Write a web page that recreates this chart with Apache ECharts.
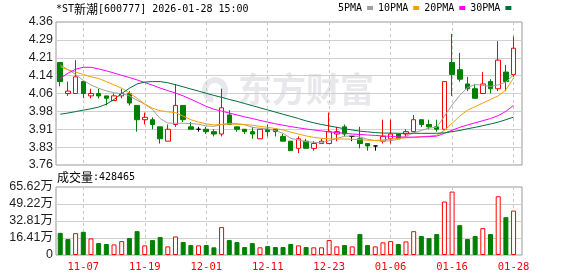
<!DOCTYPE html>
<html><head><meta charset="utf-8">
<script src="https://cdn.jsdelivr.net/npm/echarts@6/dist/echarts.min.js"></script>
<style>html,body{margin:0;padding:0;background:#fff}#c{width:578px;height:276px}</style>
</head><body><div id="c"></div>
<script>
// ---------- data ----------
const stockName = '*ST新潮';
const stockCode = '600777';
const stamp = '2026-01-28 15:00';

const dates = ['11-04','11-05','11-06','11-07','11-10','11-11','11-12','11-13','11-14','11-17','11-18','11-19','11-20','11-21','11-24','11-25','11-26','11-27','11-28',
 '12-01','12-02','12-03','12-04','12-05','12-08','12-09','12-10','12-11','12-12','12-15','12-16','12-17','12-18','12-19','12-22','12-23','12-24','12-25','12-26','12-29','12-30','12-31',
 '01-05','01-06','01-07','01-08','01-09','01-12','01-13','01-14','01-15','01-16','01-19','01-20','01-21','01-22','01-23','01-26','01-27','01-28'];

const opens  = [4.19,4.06,4.06,4.11,4.05,4.06,4.05,4.03,4.05,4.06, 4.01,3.95,3.95,3.92,3.86,3.93,4.01,3.92,3.91,3.91, 3.90,3.89,3.97,3.92,3.91,3.90,3.87,3.91,3.91,3.88, 3.86,3.83,3.86,3.83,3.85,3.85,3.89,3.92,3.88,3.87, 3.85,3.84,3.86,3.87,3.89,3.89,3.90,3.95,3.93,3.92, 3.91,4.19,4.16,4.10,4.08,4.06,4.11,4.08,4.15,4.14];
const closes = [4.11,4.07,4.13,4.06,4.06,4.05,4.04,4.05,4.06,4.02, 3.95,3.96,3.93,3.87,3.91,4.01,3.95,3.91,3.91,3.90, 3.89,4.00,3.93,3.91,3.90,3.89,3.91,3.90,3.90,3.86, 3.82,3.87,3.83,3.85,3.86,3.90,3.90,3.89,3.88,3.85, 3.84,3.84,3.88,3.89,3.87,3.90,3.95,3.93,3.92,3.91, 4.11,4.14,4.12,4.08,4.04,4.10,4.08,4.20,4.11,4.25];
const lows   = [4.09,4.05,4.06,4.04,4.04,4.04,4.01,4.03,4.04,4.01, 3.90,3.93,3.91,3.85,3.86,3.92,3.94,3.91,3.90,3.89, 3.88,3.88,3.93,3.90,3.89,3.87,3.87,3.88,3.88,3.86, 3.82,3.81,3.83,3.82,3.85,3.85,3.86,3.88,3.86,3.83, 3.82,3.82,3.85,3.85,3.87,3.88,3.90,3.92,3.91,3.90, 3.91,4.05,4.11,4.07,4.04,4.06,4.06,4.07,4.07,4.13];
const highs  = [4.19,4.11,4.20,4.11,4.08,4.08,4.05,4.06,4.08,4.07, 4.01,3.98,3.96,3.92,3.93,4.10,4.01,3.94,3.92,3.92, 3.91,4.08,3.99,3.92,3.91,3.92,3.91,3.93,3.91,3.89, 3.86,3.88,3.87,3.86,3.87,3.98,3.92,3.93,3.88,3.92, 3.85,3.84,3.95,3.95,3.89,3.91,3.97,3.95,3.95,3.95, 4.11,4.31,4.23,4.13,4.10,4.15,4.12,4.28,4.18,4.30];

const ma5  = [4.180,4.160,4.140,4.115,4.096,4.082,4.071,4.063,4.060,4.050, 4.032,4.015,3.993,3.955,3.936,3.935,3.935,3.934,3.931,3.924, 3.922,3.930,3.935,3.933,3.929,3.918,3.914,3.911,3.904,3.893, 3.872,3.865,3.858,3.855,3.853,3.862,3.872,3.880,3.883,3.878, 3.868,3.862,3.860,3.862,3.868,3.880,3.895,3.905,3.915,3.918, 3.965,4.012,4.052,4.085,4.098,4.094,4.090,4.096,4.108,4.138];
const ma10 = [4.172,4.160,4.150,4.140,4.130,4.123,4.110,4.096,4.082,4.062, 4.040,4.016,3.998,3.988,3.983,3.980,3.965,3.950,3.940,3.933, 3.928,3.930,3.932,3.931,3.930,3.927,3.922,3.918,3.913,3.907, 3.898,3.890,3.882,3.876,3.872,3.870,3.869,3.869,3.868,3.866, 3.864,3.863,3.865,3.869,3.872,3.874,3.876,3.879,3.881,3.885, 3.905,3.935,3.965,3.990,4.005,4.020,4.035,4.050,4.075,4.125];
const ma20 = [4.123,4.145,4.162,4.170,4.170,4.163,4.155,4.146,4.136,4.127, 4.117,4.106,4.095,4.083,4.072,4.062,4.050,4.036,4.021,4.006, 3.994,3.986,3.978,3.970,3.962,3.955,3.947,3.940,3.933,3.927, 3.921,3.916,3.911,3.907,3.903,3.899,3.896,3.893,3.890,3.888, 3.886,3.884,3.882,3.880,3.878,3.877,3.877,3.878,3.879,3.881, 3.893,3.906,3.918,3.928,3.937,3.946,3.955,3.967,3.985,4.010];
const ma30 = [3.973,3.978,3.984,3.990,3.996,4.003,4.015,4.035,4.060,4.082, 4.100,4.108,4.110,4.110,4.105,4.097,4.088,4.079,4.070,4.061, 4.052,4.044,4.035,4.027,4.018,4.009,4.000,3.991,3.982,3.973, 3.964,3.955,3.945,3.937,3.930,3.924,3.918,3.912,3.907,3.902, 3.899,3.896,3.894,3.894,3.893,3.893,3.893,3.893,3.893,3.893, 3.895,3.900,3.905,3.912,3.918,3.925,3.932,3.940,3.950,3.961];

const volumes = [214000,154000,211000,224000,160000,115000,106000,102000,134000,163000, 230000,93000,144000,173000,83000,179000,125000,96000,93000,96000, 74000,269000,144000,125000,77000,115000,74000,86000,77000,77000, 106000,93000,77000,74000,74000,144000,83000,96000,83000,202000, 96000,83000,122000,134000,106000,131000,230000,183000,163000,202000, 516000,612000,288000,154000,183000,259000,202000,567000,365000,428465];
const volumeUp = [0,0,1,0,1,0,0,1,1,0, 0,1,0,0,1,1,0,0,1,0, 0,1,0,0,0,0,1,0,0,0, 0,1,0,1,1,1,1,0,1,0, 0,1,1,1,0,1,1,0,0,0, 1,1,0,0,0,1,0,1,0,1];

const maNames = ['5PMA','10PMA','20PMA','30PMA'];
const priceTicks = ['3.76','3.83','3.91','3.98','4.06','4.14','4.21','4.29','4.36'];
const volumeTicks = ['0','16.41万','32.81万','49.22万','65.62万'];

// ---------- chart ----------
const PRICE_MIN = 3.76, PRICE_MAX = 4.36, PRICE_STEP = 0.075;
const VOL_MAX = 656200, VOL_STEP = 164050;
const RED = '#ff0000', GREEN = '#008000';
const MA_COLORS = ['#a0a0a0', '#f5a100', '#ff00ff', '#00703a'];
const MONO = "'DejaVu Sans Mono', monospace";
const CJK = "'Noto Sans CJK SC', sans-serif";
const SANS = "'Liberation Sans', 'Noto Sans CJK SC', sans-serif";

const showIdx = (i) => (i - 3) % 8 === 0;
const candleData = dates.map((d, i) => [opens[i], closes[i], lows[i], highs[i]]);
const mas = [ma5, ma10, ma20, ma30];
const volData = volumes.map((v, i) => ({
  value: v,
  itemStyle: volumeUp[i] ? { color: '#fff', borderColor: RED, borderWidth: 1 } : { color: GREEN, borderColor: GREEN, borderWidth: 1 }
}));

const G_TOP = 22, G_H = 143, V_TOP = 187, V_H = 68;
const dashSplit = { show: true, interval: showIdx, alignWithLabel: true, lineStyle: { color: '#c8c8c8', type: [3, 3], width: 1 } };

const option = {
  animation: false,
  backgroundColor: '#fff',
  grid: [
    { left: 56.4, top: G_TOP, width: 461, height: G_H },
    { left: 56.4, top: V_TOP, width: 461, height: V_H },
    { left: 56, top: G_TOP, width: 466, height: G_H, show: true, borderColor: '#999', borderWidth: 1, backgroundColor: 'transparent' },
    { left: 56, top: V_TOP, width: 466, height: V_H, show: true, borderColor: '#999', borderWidth: 1, backgroundColor: 'transparent' }
  ],
  legend: {
    data: maNames, left: 338, top: 3, align: 'right', icon: 'rect',
    itemWidth: 6, itemHeight: 4, itemGap: 5, padding: 0, selectedMode: false,
    textStyle: { fontFamily: MONO, fontSize: 10, color: '#000', padding: [0, 0, 0, 0] }
  },
  xAxis: [
    { type: 'category', gridIndex: 0, data: dates, boundaryGap: true,
      axisLine: { show: false }, axisTick: { show: false }, axisLabel: { show: false }, splitLine: dashSplit },
    { type: 'category', gridIndex: 1, data: dates, boundaryGap: true,
      axisLine: { show: false }, axisTick: { show: false },
      axisLabel: { show: true, interval: showIdx, color: RED, fontFamily: MONO, fontSize: 10.5, margin: 7 },
      splitLine: dashSplit },
    { type: 'value', gridIndex: 2, show: false, min: 0, max: 1 },
    { type: 'value', gridIndex: 3, show: false, min: 0, max: 1 }
  ],
  yAxis: [
    { type: 'value', gridIndex: 0, min: PRICE_MIN, max: PRICE_MAX, show: false },
    { type: 'value', gridIndex: 1, min: 0, max: VOL_MAX, show: false },
    { type: 'value', gridIndex: 2, min: PRICE_MIN, max: PRICE_MAX, interval: PRICE_STEP,
      axisLine: { show: false }, axisTick: { show: false },
      axisLabel: { margin: 3, color: '#1e1e1e', fontFamily: SANS, fontSize: 12.5,
        formatter: (v) => priceTicks[Math.round((v - PRICE_MIN) / PRICE_STEP)] },
      splitLine: { show: true, showMinLine: false, showMaxLine: false, lineStyle: { color: '#cfcfcf', width: 1 } } },
    { type: 'value', gridIndex: 3, min: 0, max: VOL_MAX, interval: VOL_STEP,
      axisLine: { show: false }, axisTick: { show: false },
      axisLabel: { margin: 3, color: '#1e1e1e', fontFamily: SANS, fontSize: 12.5,
        formatter: (v) => volumeTicks[Math.round(v / VOL_STEP)] },
      splitLine: { show: true, showMinLine: false, showMaxLine: false, lineStyle: { color: '#cfcfcf', width: 1 } } }
  ],
  series: [
    { type: 'candlestick', xAxisIndex: 0, yAxisIndex: 0, data: candleData, barWidth: 5,
      itemStyle: { color: '#fff', color0: GREEN, borderColor: RED, borderColor0: GREEN, borderColorDoji: '#000', borderWidth: 1 } },
    ...maNames.map((n, k) => ({
      name: n, type: 'line', xAxisIndex: 0, yAxisIndex: 0, data: mas[k],
      showSymbol: false, symbol: 'none', color: MA_COLORS[k],
      lineStyle: { width: 1, color: MA_COLORS[k] }, z: 3
    })),
    { type: 'bar', xAxisIndex: 1, yAxisIndex: 1, data: volData, barWidth: 5 }
  ],
  graphic: [
    { type: 'text', x: 56, y: 9, z: 5, style: {
        text: '{a|*ST}{b|' + stockName.replace('*ST', '') + '}{a|[' + stockCode + '] ' + stamp + '}',
        verticalAlign: 'middle', fill: '#000',
        rich: { a: { fontFamily: MONO, fontSize: 10, fill: '#000' }, b: { fontFamily: CJK, fontSize: 12, fill: '#000' } } } },
    { type: 'text', x: 57, y: 177, z: 5, style: {
        text: '{b|成交量}{a|:' + volumes[volumes.length - 1] + '}',
        verticalAlign: 'middle', fill: '#000',
        rich: { a: { fontFamily: MONO, fontSize: 10, fill: '#000' }, b: { fontFamily: CJK, fontSize: 12, fill: '#000' } } } },
    { type: 'text', x: 238, y: 89, z: 0, silent: true, style: {
        text: '东方财富', fontFamily: CJK, fontSize: 34, fontWeight: 'bold', fill: '#e8e8ec', verticalAlign: 'middle' } },
    { type: 'arc', z: 0, silent: true, shape: { cx: 215, cy: 90, r: 10, startAngle: Math.PI * 0.55, endAngle: Math.PI * 2.25 },
      style: { stroke: '#e8e8ec', lineWidth: 6, fill: null } }
  ]
};

const chart = echarts.init(document.getElementById('c'), null, { renderer: 'canvas' });
chart.setOption(option);
</script>
</body></html>
